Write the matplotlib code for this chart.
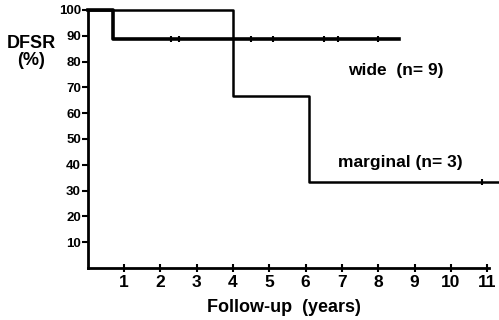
import matplotlib.pyplot as plt

plt.rcParams['font.family'] = ['Liberation Sans', 'DejaVu Sans']
plt.rcParams['font.weight'] = 'bold'

# Kaplan-Meier steps (years, DFSR %)
wide_t = [0, 0.7, 0.7, 8.57]
wide_s = [100, 100, 88.9, 88.9]
wide_cens = [2.3, 2.5, 4.5, 5.1, 6.5, 6.9, 8.0]

marg_t = [0, 4.0, 4.0, 6.1, 6.1, 11.3]
marg_s = [100, 100, 66.7, 66.7, 33.3, 33.3]
marg_cens = [10.85]

x_ticks = [1, 2, 3, 4, 5, 6, 7, 8, 9, 10, 11]
y_ticks = [10, 20, 30, 40, 50, 60, 70, 80, 90, 100]

fig = plt.figure(figsize=(4.99, 3.2), dpi=100)
ax = fig.add_axes([0.176, 0.1625, 0.804, 0.8065])

ax.plot(wide_t, wide_s, color='black', lw=2.6, clip_on=False)
ax.plot(wide_cens, [88.9] * len(wide_cens), '|', color='black', ms=5, mew=1.5, clip_on=False)
ax.plot(marg_t, marg_s, color='black', lw=1.8, clip_on=False)
ax.plot(marg_cens, [33.3] * len(marg_cens), '|', color='black', ms=5, mew=1.5, clip_on=False)

ax.set_xlim(0, 11.05)
ax.set_ylim(0, 100)
ax.set_xticks(x_ticks)
ax.set_yticks(y_ticks)
ax.tick_params(axis='x', direction='inout', length=6, width=1.5, labelsize=12.5, pad=2)
ax.tick_params(axis='y', direction='out', length=4, width=1.5, labelsize=9.5, pad=1)
for s in ['top', 'right']:
    ax.spines[s].set_visible(False)
for s in ['left', 'bottom']:
    ax.spines[s].set_linewidth(2)

ax.text(7.17, 76.7, 'wide  (n= 9)', fontsize=12.5, fontweight='bold', va='center')
ax.text(6.9, 40.7, 'marginal (n= 3)', fontsize=12.5, fontweight='bold', va='center')

fig.text(31 / 499, 1 - 52 / 320, 'DFSR\n(%)', fontsize=13, fontweight='bold',
         ha='center', va='center', linespacing=1.0)
fig.text(284 / 499, 1 - 307 / 320, 'Follow-up  (years)', fontsize=13,
         fontweight='bold', ha='center', va='center')

fig.savefig('out.png', dpi=100)
